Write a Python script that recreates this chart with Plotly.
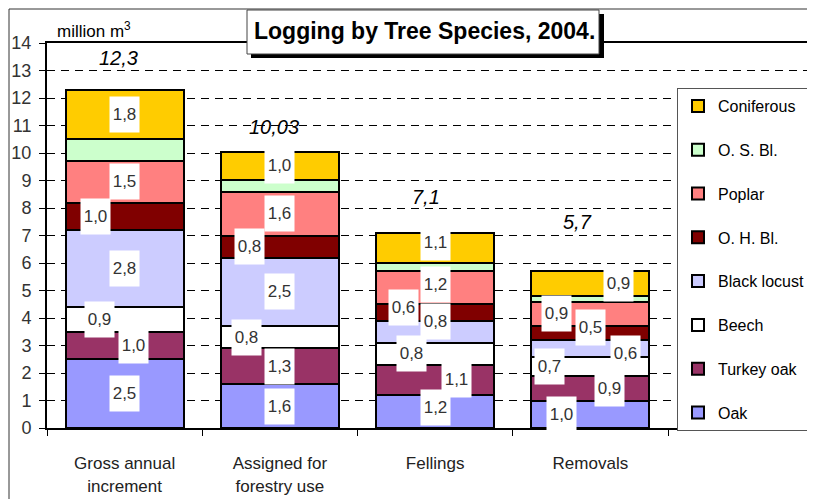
import plotly.graph_objects as go

# ---------------- data ----------------
categories = ["Gross annual<br>increment", "Assigned for<br>forestry use", "Fellings", "Removals"]
species = ["Oak", "Turkey oak", "Beech", "Black locust", "O. H. Bl.", "Poplar", "O. S. Bl.", "Coniferous"]
oak = [2.5, 1.6, 1.2, 1.0]
turkey_oak = [1.0, 1.3, 1.1, 0.9]
beech = [0.9, 0.8, 0.8, 0.7]
black_locust = [2.8, 2.5, 0.8, 0.6]
o_h_bl = [1.0, 0.8, 0.6, 0.5]
poplar = [1.5, 1.6, 1.2, 0.9]
o_s_bl = [0.8, 0.43, 0.3, 0.2]
coniferous = [1.8, 1.0, 1.1, 0.9]
totals = [12.3, 10.03, 7.1, 5.7]
total_labels = ["12,3", "10,03", "7,1", "5,7"]
y_ticks = list(range(0, 15))

series_values = [oak, turkey_oak, beech, black_locust, o_h_bl, poplar, o_s_bl, coniferous]

# ---------------- style ----------------
colors = ["#9999FF", "#993366", "#FFFFFF", "#CCCCFF", "#800000", "#FF8080", "#CCFFCC", "#FFCC00"]
show_labels = [True, True, True, True, True, True, False, True]
label_xshift = [
    [0, 0, 0, -29],
    [9, 0, 21, 19],
    [-25, -33, -24, -41],
    [0, 0, 0, 35],
    [-29, -30, -32, 0],
    [0, 0, 0, -34],
    [0, 0, 0, 0],
    [0, 0, 0, 28],
]
label_yshift = [
    [0, 0, 4, 0],
    [0, 0, 0, 0],
    [0, 0, 0, 0],
    [0, 0, 10, -5],
    [0, 0, 5, 6],
    [0, 0, 3, 0],
    [0, 0, 0, 0],
    [0, 0, 5, 0],
]
total_xshift = [-6, -6, -9, -13]
total_yshift = [32, 25, 36, 49]

FONT = "Liberation Sans, Arial, sans-serif"
OFF = 8  # page body margin of the html page
W, H = 815 - OFF, 499 - OFF
ML, MR, MT = 47 - OFF, 0, 43 - OFF
MB = H - (428 - OFF)
PW, PH = W - ML - MR, H - MT - MB


def px(xp):
    """page pixel x -> paper coordinate"""
    return (xp - OFF - ML) / PW


def py(yp):
    """page pixel y -> paper coordinate"""
    return (H - MB - (yp - OFF)) / PH


xpos = [0, 1, 2, 3]
cat_px = 155.25
x_right = -0.5 + PW / cat_px

fig = go.Figure()
n = len(species)
for i, (name, vals, col) in enumerate(zip(species, series_values, colors)):
    fig.add_trace(go.Bar(
        x=xpos, y=vals, name=name, legendgroup=name, legendrank=100 * (n - i), width=0.76,
        marker=dict(color=col, line=dict(color="black", width=2)),
        hoverinfo="skip",
    ))

annotations = []
base = [0.0] * 4
for si, vals in enumerate(series_values):
    for ci, v in enumerate(vals):
        if show_labels[si]:
            annotations.append(dict(
                x=xpos[ci], y=base[ci] + v / 2, xref="x", yref="y",
                text=f"{v:.1f}".replace(".", ","), showarrow=False,
                font=dict(family=FONT, size=17, color="#333333"),
                bgcolor="white", width=27, height=33,
                xshift=label_xshift[si][ci], yshift=label_yshift[si][ci],
            ))
        base[ci] += v

for ci, t in enumerate(totals):
    annotations.append(dict(
        x=xpos[ci], y=t, xref="x", yref="y", text=f"<i>{total_labels[ci]}</i>",
        showarrow=False, font=dict(family=FONT, size=20, color="black"),
        xshift=total_xshift[ci], yshift=total_yshift[ci],
    ))

annotations.append(dict(
    x=px(55), y=py(30), xref="paper", yref="paper", xanchor="left", yanchor="middle",
    text="million m<sup>3</sup>", showarrow=False,
    font=dict(family=FONT, size=17, color="black"),
))
annotations.append(dict(
    x=px(424), y=py(31), xref="paper", yref="paper", xanchor="center", yanchor="middle",
    text="<b>Logging by Tree Species, 2004.</b>", showarrow=False,
    font=dict(family=FONT, size=23, color="black"),
))

shapes = [
    dict(type="rect", xref="paper", yref="paper", x0=px(9), x1=px(830), y0=py(520), y1=py(9),
         line=dict(color="#333333", width=1), fillcolor="rgba(0,0,0,0)", layer="above"),
    dict(type="rect", xref="paper", yref="paper", x0=px(251), x1=px(604), y0=py(58), y1=py(14),
         line=dict(color="black", width=0), fillcolor="black", layer="above"),
    dict(type="rect", xref="paper", yref="paper", x0=px(247), x1=px(599), y0=py(54), y1=py(10),
         line=dict(color="#444444", width=1), fillcolor="white", layer="above"),
]

fig.update_layout(
    width=W, height=H,
    margin=dict(l=ML, r=MR, t=MT, b=MB, pad=0, autoexpand=False),
    paper_bgcolor="white", plot_bgcolor="white",
    barmode="stack", showlegend=True,
    xaxis=dict(
        range=[-0.5, x_right], tickvals=xpos, ticktext=categories,
        ticks="", showline=True, mirror=True, linecolor="black", linewidth=2,
        showgrid=False, zeroline=False, fixedrange=True,
        tickfont=dict(family=FONT, size=17, color="#222222"),
        ticklabelstandoff=19,
        minor=dict(tickvals=[-0.5, 0.5, 1.5, 2.5, 3.5], ticks="outside", ticklen=6,
                   tickwidth=1, tickcolor="black", showgrid=False),
    ),
    yaxis=dict(
        range=[0, 14], tickvals=y_ticks, ticks="outside", ticklen=6, tickwidth=1,
        tickcolor="black", showline=True, linecolor="black", linewidth=2,
        showgrid=True, gridcolor="black", gridwidth=1, griddash="8px,6px",
        zeroline=False, tickfont=dict(family=FONT, size=18, color="#333333"),
        ticklabelstandoff=4,
    ),
    legend=dict(
        x=px(677), y=py(88), xanchor="left", yanchor="top",
        font=dict(family=FONT, size=16, color="black"),
        bgcolor="white", bordercolor="#555555", borderwidth=1,
        tracegroupgap=20, traceorder="grouped", itemwidth=30,
    ),
    annotations=annotations, shapes=shapes,
)

fig.write_html("out.html")
